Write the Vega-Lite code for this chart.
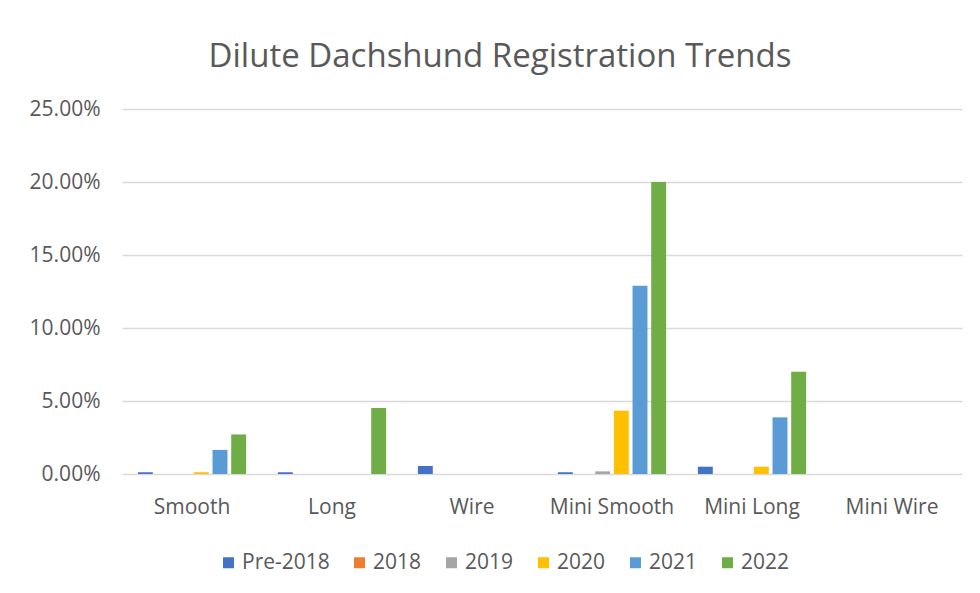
{
  "$schema": "https://vega.github.io/schema/vega-lite/v6.json",
  "width": 840,
  "height": 365,
  "autosize": {"type": "none"},
  "padding": {"left": 122, "top": 109, "right": 18, "bottom": 119},
  "background": "white",
  "title": {
    "text": "Dilute Dachshund Registration Trends",
    "font": "Open Sans",
    "fontSize": 33,
    "fontWeight": "normal",
    "color": "#595959",
    "anchor": "middle",
    "dx": -42,
    "dy": 42,
    "offset": 40,
    "baseline": "alphabetic"
  },
  "data": {
    "values": [
      {"variety": "Smooth", "year": "Pre-2018", "share": 0.0012},
      {"variety": "Smooth", "year": "2018", "share": 0},
      {"variety": "Smooth", "year": "2019", "share": 0},
      {"variety": "Smooth", "year": "2020", "share": 0.0012},
      {"variety": "Smooth", "year": "2021", "share": 0.0165},
      {"variety": "Smooth", "year": "2022", "share": 0.0271},
      {"variety": "Long", "year": "Pre-2018", "share": 0.0012},
      {"variety": "Long", "year": "2018", "share": 0},
      {"variety": "Long", "year": "2019", "share": 0},
      {"variety": "Long", "year": "2020", "share": 0},
      {"variety": "Long", "year": "2021", "share": 0},
      {"variety": "Long", "year": "2022", "share": 0.0452},
      {"variety": "Wire", "year": "Pre-2018", "share": 0.0055},
      {"variety": "Wire", "year": "2018", "share": 0},
      {"variety": "Wire", "year": "2019", "share": 0},
      {"variety": "Wire", "year": "2020", "share": 0},
      {"variety": "Wire", "year": "2021", "share": 0},
      {"variety": "Wire", "year": "2022", "share": 0},
      {"variety": "Mini Smooth", "year": "Pre-2018", "share": 0.0012},
      {"variety": "Mini Smooth", "year": "2018", "share": 0},
      {"variety": "Mini Smooth", "year": "2019", "share": 0.0018},
      {"variety": "Mini Smooth", "year": "2020", "share": 0.0434},
      {"variety": "Mini Smooth", "year": "2021", "share": 0.129},
      {"variety": "Mini Smooth", "year": "2022", "share": 0.2},
      {"variety": "Mini Long", "year": "Pre-2018", "share": 0.005},
      {"variety": "Mini Long", "year": "2018", "share": 0},
      {"variety": "Mini Long", "year": "2019", "share": 0},
      {"variety": "Mini Long", "year": "2020", "share": 0.005},
      {"variety": "Mini Long", "year": "2021", "share": 0.0388},
      {"variety": "Mini Long", "year": "2022", "share": 0.07},
      {"variety": "Mini Wire", "year": "Pre-2018", "share": 0},
      {"variety": "Mini Wire", "year": "2018", "share": 0},
      {"variety": "Mini Wire", "year": "2019", "share": 0},
      {"variety": "Mini Wire", "year": "2020", "share": 0},
      {"variety": "Mini Wire", "year": "2021", "share": 0},
      {"variety": "Mini Wire", "year": "2022", "share": 0}
    ]
  },
  "mark": {"type": "bar"},
  "encoding": {
    "x": {
      "field": "variety",
      "type": "nominal",
      "sort": ["Smooth", "Long", "Wire", "Mini Smooth", "Mini Long", "Mini Wire"],
      "scale": {"paddingInner": 0.2, "paddingOuter": 0.1},
      "axis": {
        "title": null,
        "labelAngle": 0,
        "ticks": false,
        "domain": false,
        "labelFont": "Open Sans",
        "labelFontSize": 21,
        "labelColor": "#595959",
        "labelPadding": 22
      }
    },
    "xOffset": {
      "field": "year",
      "type": "nominal",
      "sort": ["Pre-2018", "2018", "2019", "2020", "2021", "2022"],
      "scale": {"paddingInner": 0.2, "paddingOuter": 0.1}
    },
    "y": {
      "field": "share",
      "type": "quantitative",
      "scale": {"domain": [0, 0.25]},
      "axis": {
        "title": null,
        "format": ".2%",
        "values": [0, 0.05, 0.1, 0.15, 0.2, 0.25],
        "ticks": false,
        "domain": false,
        "gridColor": "#D9D9D9",
        "gridWidth": 1.5,
        "labelFont": "Open Sans",
        "labelFontSize": 21,
        "labelColor": "#595959",
        "labelPadding": 22
      }
    },
    "color": {
      "field": "year",
      "type": "nominal",
      "scale": {
        "domain": ["Pre-2018", "2018", "2019", "2020", "2021", "2022"],
        "range": ["#4472C4", "#ED7D31", "#A5A5A5", "#FFC000", "#5B9BD5", "#70AD47"]
      },
      "legend": {
        "title": null,
        "orient": "none",
        "direction": "horizontal",
        "legendX": 96,
        "legendY": 443,
        "padding": 0,
        "symbolType": "square",
        "symbolSize": 121,
        "symbolStrokeWidth": 0,
        "labelFont": "Open Sans",
        "labelFontSize": 21,
        "labelColor": "#595959",
        "labelOffset": 3,
        "columnPadding": 19
      }
    }
  },
  "config": {"view": {"stroke": null}}
}
